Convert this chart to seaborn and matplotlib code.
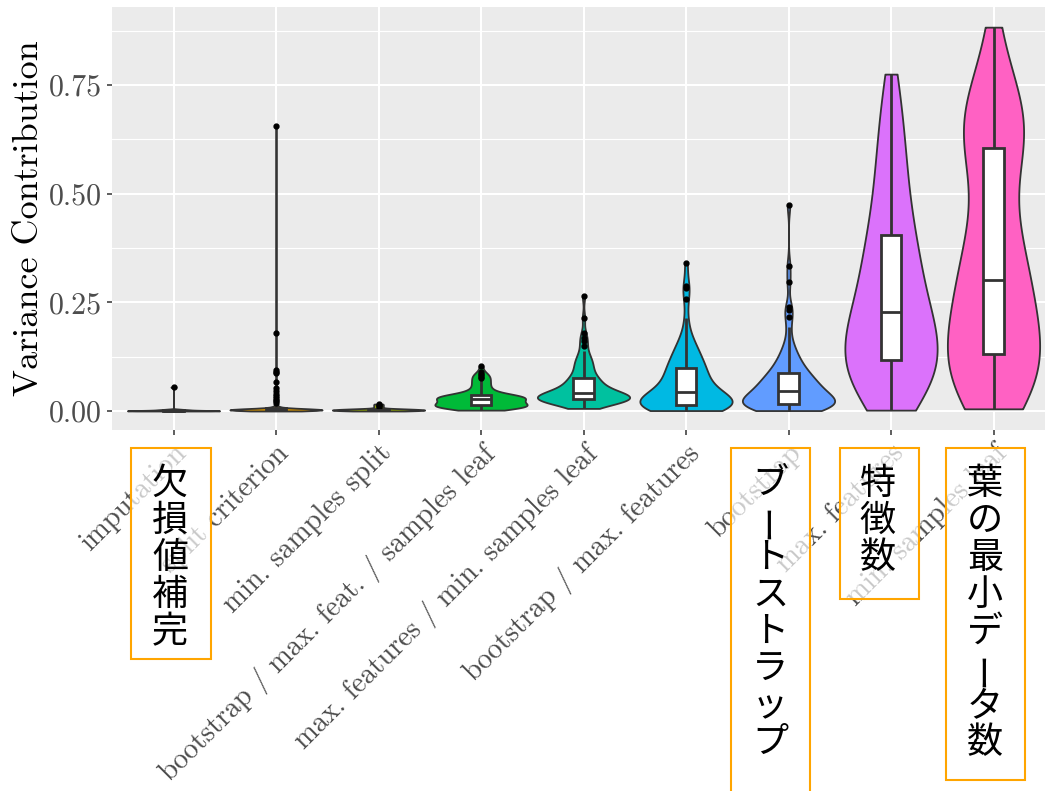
import numpy as np
import pandas as pd
import matplotlib
matplotlib.use("Agg")
import matplotlib.pyplot as plt
from matplotlib.patches import Rectangle
import seaborn as sns

# ---------------- data ----------------
categories = [
    "imputation",
    "split criterion",
    "min. samples split",
    "bootstrap / max. feat. / samples leaf",
    "max. features / min. samples leaf",
    "bootstrap / max. features",
    "bootstrap",
    "max. features",
    "min. samples leaf",
]

imputation = [0.0, 0.0, 0.0, 0.0001, 0.0001, 0.0002, 0.0002, 0.0003, 0.0003, 0.0004,
              0.0004, 0.0005, 0.0005, 0.0006, 0.0007, 0.0008, 0.0009, 0.0010, 0.0011, 0.0012,
              0.0013, 0.0014, 0.0016, 0.0018, 0.0020, 0.0022, 0.0025, 0.0028, 0.0031, 0.0035,
              0.0040, 0.0045, 0.0029, 0.0550]
split_criterion = [0.0, 0.0001, 0.0002, 0.0003, 0.0004, 0.0005, 0.0006, 0.0007, 0.0008, 0.0009,
                   0.0010, 0.0011, 0.0012, 0.0013, 0.0014, 0.0015, 0.0016, 0.0017, 0.0018, 0.0019,
                   0.0020, 0.0021, 0.0022, 0.0023, 0.0024, 0.0025, 0.0026, 0.0027, 0.0028, 0.0029,
                   0.0030, 0.0031, 0.0032, 0.0033, 0.0034, 0.0035, 0.0036, 0.0037, 0.0038, 0.0039,
                   0.0040, 0.0041, 0.0042, 0.0043, 0.0044, 0.0045, 0.0046, 0.0047, 0.0048, 0.0049,
                   0.0050, 0.0052, 0.0054, 0.0056, 0.0058, 0.0060, 0.0063, 0.0066, 0.0070, 0.0075,
                   0.0080, 0.0090, 0.0100, 0.0120, 0.0150, 0.0180, 0.0220, 0.0260, 0.0300, 0.0350,
                   0.0400, 0.0460, 0.0520, 0.0670, 0.0870, 0.0900, 0.0940, 0.1800, 0.6560]
min_samples_split = [0.0, 0.0002, 0.0004, 0.0006, 0.0008, 0.0010, 0.0012, 0.0014, 0.0016, 0.0018,
                     0.0020, 0.0022, 0.0024, 0.0026, 0.0028, 0.0030, 0.0032, 0.0034, 0.0036, 0.0038,
                     0.0040, 0.0043, 0.0046, 0.0050, 0.0055, 0.0060, 0.0080, 0.0100, 0.0120, 0.0140,
                     0.0160]
boot_feat_leaf = [0.002, 0.003, 0.004, 0.005, 0.006, 0.007, 0.007, 0.008, 0.008, 0.009,
                  0.009, 0.010, 0.010, 0.010, 0.011, 0.011, 0.011, 0.012, 0.012, 0.012,
                  0.013, 0.014, 0.015, 0.015, 0.016, 0.017, 0.017, 0.018, 0.019, 0.019,
                  0.020, 0.021, 0.022, 0.022, 0.023, 0.024, 0.025, 0.026, 0.026, 0.027,
                  0.028, 0.028, 0.029, 0.029, 0.030, 0.030, 0.031, 0.031, 0.032, 0.032,
                  0.033, 0.033, 0.034, 0.034, 0.035, 0.035, 0.036, 0.036, 0.037, 0.037,
                  0.039, 0.041, 0.043, 0.045, 0.047, 0.049, 0.052, 0.055, 0.058, 0.061,
                  0.064, 0.067, 0.070, 0.073, 0.076, 0.079, 0.082, 0.085, 0.090, 0.104]
feat_leaf = [0.006, 0.010, 0.013, 0.016, 0.018, 0.019, 0.020, 0.021, 0.022, 0.023,
             0.023, 0.024, 0.024, 0.025, 0.025, 0.026, 0.026, 0.027, 0.027, 0.028,
             0.028, 0.029, 0.029, 0.030, 0.030, 0.031, 0.031, 0.032, 0.032, 0.033,
             0.033, 0.034, 0.035, 0.035, 0.036, 0.037, 0.038, 0.038, 0.039, 0.040,
             0.041, 0.042, 0.043, 0.045, 0.046, 0.048, 0.050, 0.052, 0.054, 0.056,
             0.058, 0.060, 0.062, 0.064, 0.066, 0.068, 0.070, 0.072, 0.074, 0.076,
             0.079, 0.083, 0.087, 0.091, 0.095, 0.099, 0.103, 0.107, 0.111, 0.115,
             0.119, 0.124, 0.130, 0.138, 0.150, 0.160, 0.168, 0.180, 0.214, 0.265]
boot_feat = [0.001, 0.002, 0.003, 0.004, 0.005, 0.006, 0.007, 0.007, 0.008, 0.009,
             0.009, 0.010, 0.010, 0.011, 0.011, 0.012, 0.012, 0.013, 0.013, 0.014,
             0.015, 0.016, 0.017, 0.018, 0.019, 0.020, 0.022, 0.023, 0.024, 0.026,
             0.027, 0.029, 0.030, 0.032, 0.033, 0.035, 0.037, 0.038, 0.040, 0.042,
             0.044, 0.046, 0.049, 0.051, 0.054, 0.057, 0.060, 0.063, 0.066, 0.069,
             0.072, 0.075, 0.078, 0.081, 0.084, 0.087, 0.090, 0.093, 0.096, 0.099,
             0.102, 0.106, 0.110, 0.114, 0.118, 0.122, 0.126, 0.131, 0.136, 0.141,
             0.147, 0.153, 0.160, 0.170, 0.185, 0.214, 0.258, 0.283, 0.288, 0.340]
bootstrap = [0.001, 0.002, 0.003, 0.004, 0.005, 0.006, 0.007, 0.008, 0.009, 0.009,
             0.010, 0.011, 0.011, 0.012, 0.013, 0.013, 0.014, 0.015, 0.015, 0.016,
             0.017, 0.018, 0.019, 0.021, 0.022, 0.023, 0.025, 0.026, 0.028, 0.029,
             0.031, 0.032, 0.034, 0.035, 0.037, 0.038, 0.040, 0.041, 0.043, 0.044,
             0.046, 0.048, 0.050, 0.052, 0.054, 0.056, 0.058, 0.060, 0.062, 0.064,
             0.066, 0.068, 0.070, 0.072, 0.074, 0.077, 0.080, 0.082, 0.085, 0.087,
             0.090, 0.094, 0.098, 0.102, 0.106, 0.110, 0.115, 0.120, 0.126, 0.133,
             0.141, 0.150, 0.165, 0.193, 0.216, 0.232, 0.239, 0.297, 0.334, 0.474]
max_features = [0.002, 0.012, 0.022, 0.031, 0.040, 0.048, 0.056, 0.063, 0.070, 0.077,
                0.084, 0.091, 0.098, 0.105, 0.112,
                0.119, 0.126, 0.133, 0.140, 0.147, 0.154, 0.161, 0.168, 0.175, 0.183,
                0.191, 0.199, 0.207, 0.215, 0.223,
                0.232, 0.243, 0.254, 0.265, 0.277, 0.289, 0.301, 0.313, 0.325, 0.337,
                0.349, 0.361, 0.374, 0.387, 0.400,
                0.418, 0.435, 0.453, 0.472, 0.492, 0.513, 0.535, 0.558, 0.582, 0.607,
                0.633, 0.662, 0.695, 0.733, 0.775]
min_samples_leaf = [0.005, 0.015, 0.024, 0.033, 0.042, 0.050, 0.058, 0.066, 0.074, 0.082,
                    0.090, 0.098, 0.106, 0.114, 0.122,
                    0.133, 0.144, 0.155, 0.166, 0.177, 0.188, 0.199, 0.210, 0.221, 0.233,
                    0.245, 0.257, 0.269, 0.282, 0.295,
                    0.310, 0.322, 0.335, 0.348, 0.362, 0.377, 0.393, 0.411, 0.432, 0.456,
                    0.485, 0.520, 0.552, 0.580, 0.602,
                    0.614, 0.622, 0.631, 0.640, 0.650, 0.660, 0.671, 0.683, 0.696, 0.712,
                    0.730, 0.752, 0.780, 0.825, 0.883]

series = [imputation, split_criterion, min_samples_split, boot_feat_leaf, feat_leaf,
          boot_feat, bootstrap, max_features, min_samples_leaf]

colors = ["#F8766D", "#D39200", "#93AA00", "#00BA38", "#00C19F",
          "#00B9E3", "#619CFF", "#DB72FB", "#FF61C3"]

y_ticks = [0.0, 0.25, 0.50, 0.75]
y_tick_labels = ["0.00", "0.25", "0.50", "0.75"]
y_minor = [0.125, 0.375, 0.625, 0.875]

y_title = "Variance Contribution"

# Japanese annotations: text, centre x (px), box x0, x1, y0, y1 (px)
annotations = [
    ("欠損値補完", 170, 131, 211, 448, 659),
    ("ブートストラップ", 770, 731, 810, 448, 800),
    ("特徴数", 878, 840, 919, 448, 599),
    ("葉の最小データ数", 985, 946, 1025, 448, 780),
]

df = pd.DataFrame({
    "category": np.concatenate([[c] * len(v) for c, v in zip(categories, series)]),
    "value": np.concatenate([np.asarray(v, float) for v in series]),
})

# ---------------- style ----------------
plt.rcParams["axes.unicode_minus"] = False
plt.rcParams["font.family"] = ["cmr10", "DejaVu Serif"]
plt.rcParams["mathtext.fontset"] = "cm"

W, H = 1045, 791
fig = plt.figure(figsize=(W / 100, H / 100), dpi=100)
left_px, right_px, top_px, bot_px = 112, 1055, 7, 430
ax = fig.add_axes([left_px / W, 1 - bot_px / H, (right_px - left_px) / W, (bot_px - top_px) / H])
ax.set_facecolor("#EBEBEB")
for s in ax.spines.values():
    s.set_visible(False)


def nrd0(x):
    x = np.asarray(x, float)
    sd = x.std(ddof=1)
    q75, q25 = np.percentile(x, [75, 25])
    lo = min(sd, (q75 - q25) / 1.34)
    if lo <= 0:
        lo = sd
    return 0.9 * lo * len(x) ** (-0.2)


line_col = "#333333"
for i, (cat, vals) in enumerate(zip(categories, series)):
    arr = np.asarray(vals, float)
    factor = nrd0(arr) / arr.std(ddof=1)
    sub = df[df["category"] == cat]
    sns.violinplot(data=sub, x="category", y="value", order=categories,
                   color=colors[i], saturation=1, inner=None, cut=0,
                   density_norm="width", width=0.9, bw_method=factor,
                   gridsize=512, linewidth=1.3, linecolor=line_col, ax=ax)

sns.boxplot(data=df, x="category", y="value", order=categories, width=0.2,
            color="white", saturation=1, linecolor=line_col, linewidth=2.0,
            showcaps=False, fliersize=3.5,
            flierprops=dict(marker="o", markerfacecolor="black",
                            markeredgecolor="black"),
            ax=ax)

ax.set_xlim(-0.6, len(categories) - 1 + 0.6)
ax.set_ylim(-0.0437, 0.9294)
ax.set_yticks(y_ticks)
ax.set_yticklabels(y_tick_labels)
ax.set_yticks(y_minor, minor=True)
ax.set_xticks(range(len(categories)))
ax.set_xticklabels(categories, rotation=45, ha="right", va="top",
                   rotation_mode="anchor")
ax.set_axisbelow(True)
ax.grid(True, which="major", color="white", linewidth=1.5)
ax.grid(True, which="minor", axis="y", color="white", linewidth=0.8)
ax.tick_params(axis="both", which="major", length=3.6, width=1.1, color=line_col,
               labelcolor="#4D4D4D", labelsize=21.5, pad=3.5)
ax.tick_params(axis="x", which="major", labelsize=20.6)
ax.tick_params(axis="y", which="minor", length=0)
ax.set_xlabel("")
ax.set_ylabel(y_title, fontsize=26, color="black", labelpad=3)

for text, cx, x0, x1, y0, y1 in annotations:
    fig.add_artist(Rectangle((x0 / W, 1 - y1 / H), (x1 - x0) / W, (y1 - y0) / H,
                             transform=fig.transFigure, facecolor=(1, 1, 1, 0.7),
                             edgecolor="#FFA500", linewidth=1.5, zorder=5))
    for k, ch in enumerate(text):
        cy = 484 + 37 * k
        rot = 90 if ch == "ー" else 0
        fig.text(cx / W, 1 - cy / H, ch, ha="center", va="center", rotation=rot,
                 fontsize=26, family=["Noto Sans CJK JP", "DejaVu Sans"],
                 color="black", zorder=6)

fig.savefig("out.png", dpi=100)
